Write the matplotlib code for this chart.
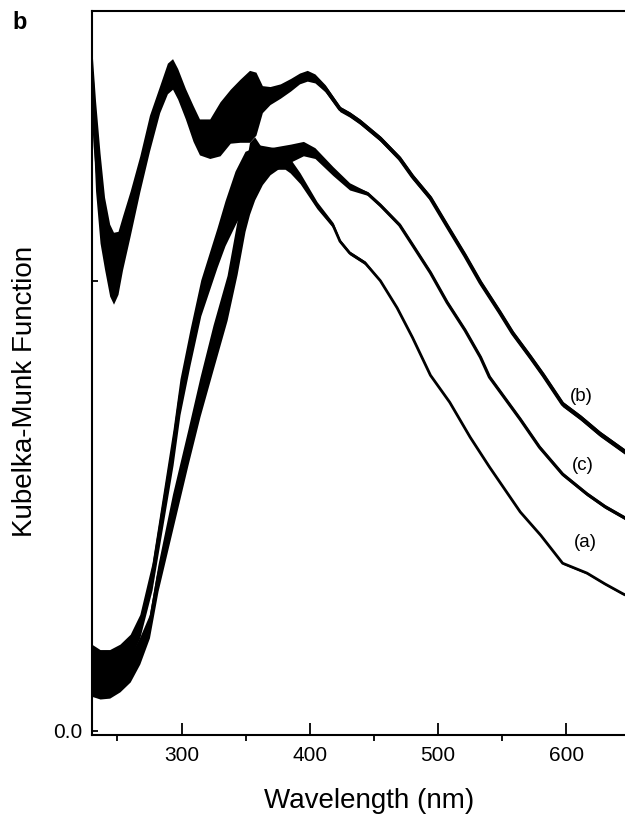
import matplotlib.pyplot as plt
from matplotlib.ticker import MultipleLocator
import numpy as np

plt.rcParams['font.family'] = ['Liberation Sans', 'DejaVu Sans']

# spectrum (a)
wl_a = [230, 236.5, 244, 252, 260, 267.5, 277, 293.4, 298.8, 306.6, 315, 327.7,
        333.9, 341.7, 349.5, 361, 373, 380.7, 384.6, 392.4, 405.6, 418, 423.5,
        431, 443, 455, 468, 480, 494, 509, 525, 540, 552, 564, 580, 597, 616,
        630, 644, 650]
km_a = [0.074, 0.070, 0.072, 0.081, 0.094, 0.116, 0.171, 0.315, 0.371, 0.426,
        0.481, 0.537, 0.564, 0.592, 0.614, 0.631, 0.636, 0.634, 0.628, 0.614,
        0.584, 0.562, 0.544, 0.531, 0.520, 0.500, 0.470, 0.437, 0.395, 0.365,
        0.326, 0.293, 0.268, 0.243, 0.217, 0.186, 0.175, 0.163, 0.152, 0.148]
noise_a = [0.022, 0.020, 0.018, 0.015, 0.013, 0.013, 0.015, 0.02, 0.02, 0.02,
           0.02, 0.022, 0.025, 0.03, 0.03, 0.02, 0.012, 0.01, 0.008, 0.006,
           0.004, 0.003, 0.002, 0.002, 0.002, 0.001, 0.001, 0.001, 0.001, 0.001,
           0.001, 0.001, 0.001, 0.001, 0.001, 0.001, 0.001, 0.001, 0.001, 0.001]

# spectrum (b)
wl_b = [230, 233, 236.5, 240, 244, 247, 250.5, 254, 260, 267.5, 275, 283, 289,
        293, 297, 303, 309, 314, 322, 330, 338, 345.5, 353, 358, 363, 369, 377,
        385, 392, 398, 404, 412, 423.5, 431, 439, 455, 470, 480, 494, 507, 521,
        533, 548, 558, 572, 582, 597, 611, 626, 645.6, 650]
km_b = [0.730, 0.650, 0.592, 0.553, 0.523, 0.514, 0.520, 0.542, 0.575, 0.619,
        0.664, 0.702, 0.725, 0.730, 0.719, 0.697, 0.675, 0.660, 0.658, 0.669,
        0.683, 0.689, 0.694, 0.697, 0.702, 0.706, 0.711, 0.718, 0.725, 0.728,
        0.725, 0.714, 0.691, 0.685, 0.677, 0.658, 0.636, 0.616, 0.592, 0.561,
        0.528, 0.498, 0.465, 0.442, 0.415, 0.395, 0.363, 0.348, 0.330, 0.310,
        0.306]
noise_b = [0.03, 0.05, 0.05, 0.04, 0.04, 0.04, 0.035, 0.03, 0.025, 0.02, 0.02,
           0.015, 0.017, 0.017, 0.017, 0.017, 0.02, 0.02, 0.022, 0.03, 0.03,
           0.035, 0.04, 0.035, 0.015, 0.01, 0.008, 0.007, 0.006, 0.006, 0.005,
           0.004, 0.003, 0.003, 0.003, 0.003, 0.003, 0.003, 0.003, 0.003, 0.003,
           0.003, 0.003, 0.003, 0.003, 0.003, 0.003, 0.003, 0.003, 0.003, 0.003]

# spectrum (c)
wl_c = [230, 236.5, 244, 252, 260, 267.5, 275, 281.7, 293, 305, 314.4, 324.6,
        335.5, 343.3, 349.5, 353, 357, 363, 369, 377, 385, 395, 404, 418, 431,
        445, 455, 470, 480, 494, 507, 521, 533, 540, 564, 579, 597, 616, 630,
        646, 650]
km_c = [0.058, 0.055, 0.053, 0.058, 0.069, 0.089, 0.116, 0.170, 0.243, 0.315,
        0.371, 0.426, 0.481, 0.537, 0.590, 0.614, 0.625, 0.627, 0.633, 0.638,
        0.642, 0.647, 0.642, 0.622, 0.605, 0.597, 0.584, 0.562, 0.540, 0.509,
        0.476, 0.445, 0.415, 0.393, 0.346, 0.315, 0.285, 0.263, 0.249, 0.236,
        0.233]
noise_c = [0.02, 0.02, 0.017, 0.015, 0.015, 0.015, 0.013, 0.015, 0.02, 0.02,
           0.022, 0.025, 0.025, 0.03, 0.035, 0.04, 0.035, 0.02, 0.015, 0.012,
           0.01, 0.008, 0.006, 0.005, 0.004, 0.002, 0.002, 0.002, 0.002, 0.002,
           0.002, 0.002, 0.002, 0.002, 0.002, 0.002, 0.002, 0.002, 0.002, 0.002,
           0.002]

labels = ['(b)', '(c)', '(a)']
label_wl = [611.4, 613, 614.5]
label_km = [0.371, 0.295, 0.209]

fig = plt.figure(figsize=(6.25, 8.16), dpi=100)
ax = fig.add_axes([91.7 / 625, 81 / 816, 538.9 / 625, 724 / 816])

for wl, km, sp, lw in [(wl_a, km_a, noise_a, 2.0),
                       (wl_c, km_c, noise_c, 2.3),
                       (wl_b, km_b, noise_b, 2.8)]:
    wl = np.asarray(wl)
    km = np.asarray(km)
    sp = np.asarray(sp)
    ax.fill_between(wl, km - sp, km + sp, color='black', lw=0)
    ax.plot(wl, km, color='black', lw=lw, solid_joinstyle='round')

for t, x, y in zip(labels, label_wl, label_km):
    ax.text(x, y, t, ha='center', va='center', fontsize=13.5)

ax.set_xlim(230, 650)
ax.set_ylim(-0.005, 0.8)
ax.set_xticks([300, 400, 500, 600])
ax.xaxis.set_minor_locator(MultipleLocator(50))
ax.set_yticks([0.0, 0.5])
ax.set_yticklabels(['0.0', ''])

ax.tick_params(axis='both', direction='in', labelsize=15, width=1.3)
ax.tick_params(axis='x', which='major', length=8.5, pad=8)
ax.tick_params(axis='x', which='minor', length=4.3, width=1.3)
ax.tick_params(axis='y', length=4.3, pad=7)
for s in ax.spines.values():
    s.set_linewidth(1.5)

ax.set_xlabel('Wavelength (nm)', fontsize=20, va='center')
ax.xaxis.set_label_coords(0.515, -0.091)
ax.set_ylabel('Kubelka-Munk Function', fontsize=20, va='center')
ax.yaxis.set_label_coords(-0.124, 0.475)

fig.text(12 / 625, 1 - 11 / 816, 'b', ha='left', va='top', fontsize=17,
         fontweight='bold')

fig.savefig('out.png', dpi=100)
